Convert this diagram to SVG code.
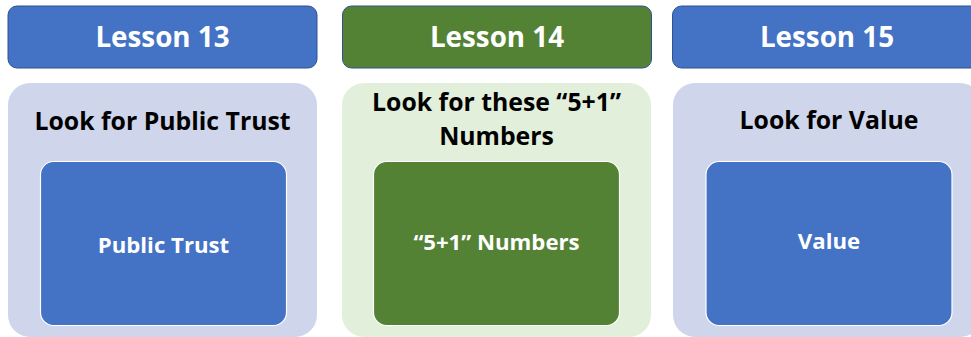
<svg xmlns="http://www.w3.org/2000/svg" width="971" height="337" viewBox="0 0 971 337">
<style>
.hdr{stroke:#2F528F;stroke-width:1}
.blue{fill:#4472C4}
.green{fill:#548235}
.cb{fill:#CFD5EA}
.cg{fill:#E2EFDA}
.inner{stroke:#FFFFFF;stroke-width:1.2}
text{font-family:"Open Sans","Liberation Sans",sans-serif;font-weight:700;text-anchor:middle}
.ht{fill:#FFFFFF;font-size:27.8px}
.tt{fill:#000000;font-size:24.8px}
.it{fill:#FFFFFF;font-size:22.2px}
</style>
<rect width="971" height="337" fill="#FFFFFF"/>
<g id="lesson13">
<rect class="hdr blue" x="8" y="6" width="309" height="62" rx="9"/>
<text class="ht" x="162.5" y="46.5">Lesson 13</text>
</g>
<g id="lesson14">
<rect class="hdr green" x="342.5" y="6" width="309" height="62" rx="9"/>
<text class="ht" x="497" y="46.5">Lesson 14</text>
</g>
<g id="lesson15">
<rect class="hdr blue" x="672.5" y="6" width="309" height="62" rx="9"/>
<text class="ht" x="827" y="46.5">Lesson 15</text>
</g>
<g id="container13">
<rect class="cb" x="8" y="83" width="309" height="254" rx="22"/>
<text class="tt" x="162.5" y="130">Look for Public Trust</text>
</g>
<g id="container14">
<rect class="cg" x="342" y="83" width="309" height="254" rx="22"/>
<text class="tt" x="496.5" y="111">Look for these “5+1”</text>
<text class="tt" x="496.5" y="145">Numbers</text>
</g>
<g id="container15">
<rect class="cb" x="673" y="83" width="309" height="254" rx="22"/>
<text class="tt" x="829" y="129">Look for Value</text>
</g>
<g id="publictrust">
<rect class="inner blue" x="40.5" y="161.5" width="246" height="164" rx="13"/>
<text class="it" x="163.5" y="253">Public Trust</text>
</g>
<g id="numbers">
<rect class="inner green" x="373.5" y="161.5" width="246" height="164" rx="13"/>
<text class="it" x="496.5" y="250">“5+1” Numbers</text>
</g>
<g id="value">
<rect class="inner blue" x="706" y="161.5" width="246" height="164" rx="13"/>
<text class="it" x="829" y="249">Value</text>
</g>
<g id="connectors"/>
</svg>
